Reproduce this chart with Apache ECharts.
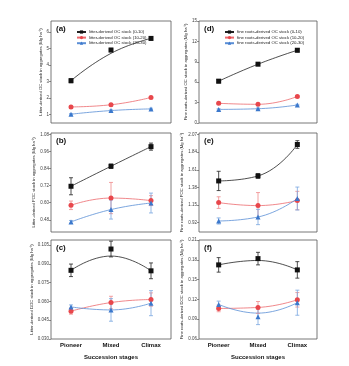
<!DOCTYPE html>
<html>
<head>
<meta charset="utf-8">
<script src="https://cdn.jsdelivr.net/npm/echarts@6/dist/echarts.min.js"></script>
<style>
  html, body { margin: 0; padding: 0; background: #fff; }
  #chart { width: 349px; height: 366px; }
</style>
</head>
<body>
<div id="chart"></div>
<script>
// Succession stages on every x axis
const stages = ['Pioneer', 'Mixed', 'Climax'];
const depths = ['(0-10)', '(10-20)', '(20-30)'];

// (a) litter-derived OC stock: means, std errors, fitted curve
const aMean0 = [3.05, 4.90, 5.60]; const aErr0 = [0.12, 0.10, 0.10]; const aFit0 = [3.05, 4.70, 5.60];
const aMean1 = [1.47, 1.60, 2.04]; const aErr1 = [0.05, 0.05, 0.06]; const aFit1 = [1.47, 1.60, 2.04];
const aMean2 = [1.03, 1.25, 1.35]; const aErr2 = [0.04, 0.04, 0.04]; const aFit2 = [1.03, 1.25, 1.35];

// (b)
const bMean0 = [0.716, 0.857, 0.995]; const bErr0 = [0.060, 0.015, 0.025]; const bFit0 = [0.716, 0.857, 0.995];
const bMean1 = [0.582, 0.633, 0.615]; const bErr1 = [0.030, 0.110, 0.035]; const bFit1 = [0.582, 0.633, 0.615];
const bMean2 = [0.465, 0.552, 0.598]; const bErr2 = [0.010, 0.067, 0.070]; const bFit2 = [0.465, 0.552, 0.598];

// (c)
const cMean0 = [0.0848, 0.1018, 0.0844]; const cErr0 = [0.0050, 0.0063, 0.0063]; const cFit0 = [0.0848, 0.0962, 0.0844];
const cMean1 = [0.0522, 0.0591, 0.0615]; const cErr1 = [0.0024, 0.0050, 0.0053]; const cFit1 = [0.0522, 0.0591, 0.0615];
const cMean2 = [0.0556, 0.0532, 0.0586]; const cErr2 = [0.0016, 0.0090, 0.0100]; const cFit2 = [0.0556, 0.0532, 0.0586];

// (d) fine roots-derived OC stock
const dMean0 = [6.15, 8.65, 10.70]; const dErr0 = [0.25, 0.20, 0.25]; const dFit0 = [6.15, 8.65, 10.70];
const dMean1 = [2.90, 2.75, 3.90];  const dErr1 = [0.15, 0.15, 0.15]; const dFit1 = [2.90, 2.75, 3.90];
const dMean2 = [2.00, 2.10, 2.65];  const dErr2 = [0.10, 0.10, 0.10]; const dFit2 = [2.00, 2.10, 2.65];

// (e)
const eMean0 = [1.464, 1.529, 1.940]; const eErr0 = [0.126, 0.030, 0.050]; const eFit0 = [1.464, 1.529, 1.940];
const eMean1 = [1.181, 1.142, 1.208]; const eErr1 = [0.076, 0.170, 0.120]; const eFit1 = [1.181, 1.142, 1.208];
const eMean2 = [0.941, 0.993, 1.234]; const eErr2 = [0.040, 0.100, 0.150]; const eFit2 = [0.941, 0.993, 1.234];

// (f)
const fMean0 = [0.1723, 0.1818, 0.1647]; const fErr0 = [0.0110, 0.0095, 0.0125]; const fFit0 = [0.1723, 0.1790, 0.1647];
const fMean1 = [0.1063, 0.1078, 0.1194]; const fErr1 = [0.0050, 0.0090, 0.0110]; const fFit1 = [0.1063, 0.1078, 0.1194];
const fMean2 = [0.1124, 0.0938, 0.1150]; const fErr2 = [0.0050, 0.0120, 0.0190]; const fFit2 = [0.1124, 0.0992, 0.1150];

// y axis tick values per panel
const aTicks = [1, 2, 3, 4, 5, 6];
const bTicks = [0.48, 0.60, 0.72, 0.84, 0.96, 1.08];
const cTicks = [0.030, 0.045, 0.060, 0.075, 0.090, 0.105];
const dTicks = [0, 3, 6, 9, 12, 15];
const eTicks = [0.92, 1.15, 1.38, 1.61, 1.84, 2.07];
const fTicks = [0.06, 0.09, 0.12, 0.15, 0.18, 0.21];

const FONT = 'Arial, "Liberation Sans", sans-serif';
const colors = ['#111111', '#e8474c', '#3b78cc'];
const errColors = ['#222222', '#f08a8c', '#79a6e0'];
const lineColors = ['#222222', '#ec6a6d', '#5b8fd6'];
const symbols = ['rect', 'circle', 'triangle'];

const panels = [
  { key: 'a', grid: { left: 51, top: 21, width: 120, height: 102 }, min: 0.5, max: 6.65, ticks: aTicks, dec: 0,
    name: 'Litter-derived OC stock in aggregates (Mg ha⁻¹)', gap: 6,
    means: [aMean0, aMean1, aMean2], errs: [aErr0, aErr1, aErr2], fits: [aFit0, aFit1, aFit2],
    legendPrefix: 'litter-derived OC stock ' },
  { key: 'b', grid: { left: 51, top: 133, width: 120, height: 99 }, min: 0.394, max: 1.091, ticks: bTicks, dec: 2,
    name: 'Litter-derived POC stock in aggregates (Mg ha⁻¹)', gap: 11,
    means: [bMean0, bMean1, bMean2], errs: [bErr0, bErr1, bErr2], fits: [bFit0, bFit1, bFit2] },
  { key: 'c', grid: { left: 51, top: 240, width: 120, height: 99 }, min: 0.030, max: 0.109, ticks: cTicks, dec: 3,
    name: 'Litter-derived DOC stock in aggregates (Mg ha⁻¹)', gap: 14, bottom: true,
    means: [cMean0, cMean1, cMean2], errs: [cErr0, cErr1, cErr2], fits: [cFit0, cFit1, cFit2] },
  { key: 'd', grid: { left: 199, top: 21, width: 118, height: 102 }, min: 0, max: 15, ticks: dTicks, dec: 0,
    name: 'Fine roots-derived OC stock in aggregates (Mg ha⁻¹)', gap: 9,
    means: [dMean0, dMean1, dMean2], errs: [dErr0, dErr1, dErr2], fits: [dFit0, dFit1, dFit2],
    legendPrefix: 'fine roots-derived OC stock ' },
  { key: 'e', grid: { left: 199, top: 133, width: 118, height: 99 }, min: 0.797, max: 2.09, ticks: eTicks, dec: 2,
    name: 'Fine roots-derived POC stock in aggregates (Mg ha⁻¹)', gap: 11,
    means: [eMean0, eMean1, eMean2], errs: [eErr0, eErr1, eErr2], fits: [eFit0, eFit1, eFit2] },
  { key: 'f', grid: { left: 199, top: 240, width: 118, height: 99 }, min: 0.06, max: 0.21, ticks: fTicks, dec: 2,
    name: 'Fine roots-derived DOC stock in aggregates (Mg ha⁻¹)', gap: 11, bottom: true,
    means: [fMean0, fMean1, fMean2], errs: [fErr0, fErr1, fErr2], fits: [fFit0, fFit1, fFit2] }
];

function errRenderer(color) {
  return function (params, api) {
    const x = api.value(0);
    const lo = api.coord([x, api.value(1)]);
    const hi = api.coord([x, api.value(2)]);
    const w = 2;
    const st = { stroke: color, lineWidth: 0.8 };
    return {
      type: 'group',
      children: [
        { type: 'line', shape: { x1: lo[0], y1: lo[1], x2: hi[0], y2: hi[1] }, style: st },
        { type: 'line', shape: { x1: lo[0] - w, y1: lo[1], x2: lo[0] + w, y2: lo[1] }, style: st },
        { type: 'line', shape: { x1: hi[0] - w, y1: hi[1], x2: hi[0] + w, y2: hi[1] }, style: st }
      ]
    };
  };
}

const grids = [], xAxes = [], yAxes = [], series = [], legends = [], graphics = [];

panels.forEach(function (p, i) {
  grids.push(Object.assign({ show: true, borderColor: '#555555', borderWidth: 0.8, containLabel: false }, p.grid));
  xAxes.push({
    type: 'category', gridIndex: i, data: stages, boundaryGap: true,
    axisLine: { show: false }, axisTick: { show: false },
    axisLabel: { show: !!p.bottom, margin: 3, fontSize: 6, fontWeight: 'bold', color: '#111', fontFamily: FONT },
    name: p.bottom ? 'Succession stages' : '', nameLocation: 'middle', nameGap: 15,
    nameTextStyle: { fontSize: 6, fontWeight: 'bold', color: '#111', fontFamily: FONT }
  });
  yAxes.push({
    type: 'value', gridIndex: i, min: p.min, max: p.max,
    splitLine: { show: false },
    axisLine: { show: false },
    axisTick: { show: true, inside: false, length: 2, customValues: p.ticks, lineStyle: { color: '#444', width: 0.6 } },
    axisLabel: { margin: 2, fontSize: 4.5, color: '#444', fontFamily: FONT, customValues: p.ticks,
      formatter: function (v) { return Number(v).toFixed(p.dec); } },
    name: p.name, nameLocation: 'middle', nameGap: p.gap, nameRotate: 90,
    nameTextStyle: { fontSize: 4.2, color: '#222', fontFamily: FONT }
  });

  const legendNames = [];
  for (let s = 0; s < 3; s++) {
    const sname = p.legendPrefix ? p.legendPrefix + depths[s] : p.key + depths[s];
    if (p.legendPrefix) legendNames.push(sname);
    // fitted curve (legend entry carries the marker shape too)
    series.push({
      type: 'line', name: sname, xAxisIndex: i, yAxisIndex: i,
      data: p.fits[s], smooth: 0.5, showSymbol: false,
      symbol: symbols[s], symbolSize: 5,
      itemStyle: { color: colors[s] },
      lineStyle: { color: lineColors[s], width: 0.8 },
      silent: true, z: 2
    });
    // error bars
    series.push({
      type: 'custom', name: sname, xAxisIndex: i, yAxisIndex: i,
      renderItem: errRenderer(errColors[s]),
      data: p.means[s].map(function (m, k) { return [k, m - p.errs[s][k], m + p.errs[s][k]]; }),
      silent: true, z: 3
    });
    // means
    series.push({
      type: 'scatter', name: sname, xAxisIndex: i, yAxisIndex: i,
      data: p.means[s], symbol: symbols[s], symbolSize: 5,
      itemStyle: { color: colors[s], opacity: 1 },
      silent: true, z: 4
    });
  }
  if (legendNames.length) {
    legends.push({
      data: legendNames, orient: 'vertical',
      left: p.grid.left + 20, top: p.grid.top + 4,
      itemWidth: 9, itemHeight: 4, itemGap: 1.6,
      selectedMode: false,
      textStyle: { fontSize: 4.3, color: '#222', fontFamily: FONT, padding: [0, 0, 0, -2] }
    });
  }
  graphics.push({
    type: 'text', left: p.grid.left + 5, top: p.grid.top + 4,
    style: { text: '(' + p.key + ')', fontSize: 8, fontWeight: 'bold', fill: '#111', fontFamily: FONT }
  });
});

const chart = echarts.init(document.getElementById('chart'), null, { renderer: 'canvas' });
chart.setOption({
  backgroundColor: '#ffffff',
  animation: false,
  grid: grids,
  xAxis: xAxes,
  yAxis: yAxes,
  legend: legends,
  series: series,
  graphic: graphics
});
</script>
</body>
</html>
